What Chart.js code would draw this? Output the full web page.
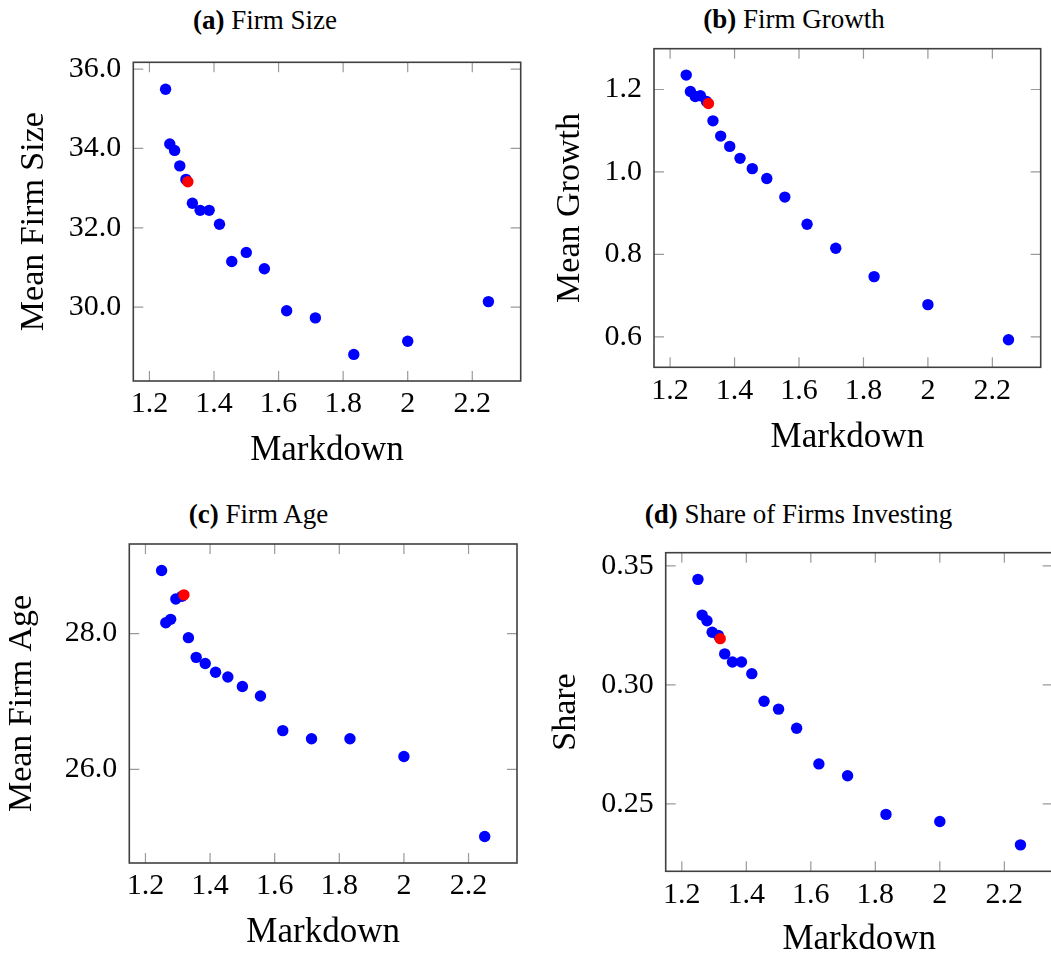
<!DOCTYPE html>
<html>
<head>
<meta charset="utf-8">
<script src="https://cdn.jsdelivr.net/npm/chart.js@4.4.1/dist/chart.umd.min.js"></script>
<style>
  html, body { margin: 0; padding: 0; background: #fff; overflow: hidden; width: 1051px; height: 958px; }
  canvas { position: absolute; }
  .cap { position: absolute; font-family: "Liberation Serif", serif; font-size: 27px; line-height: 30px;
         white-space: nowrap; transform: translateX(-50%); color: #000; }
</style>
</head>
<body>
<div class="cap" style="left:265px;top:5px"><b>(a)</b> Firm Size</div>
<div class="cap" style="left:794px;top:4px"><b>(b)</b> Firm Growth</div>
<div class="cap" style="left:258.5px;top:499px"><b>(c)</b> Firm Age</div>
<div class="cap" style="left:798.5px;top:499px"><b>(d)</b> Share of Firms Investing</div>

<canvas id="chartA" width="525" height="480" style="left:0;top:0"></canvas>
<canvas id="chartB" width="526" height="480" style="left:525px;top:0"></canvas>
<canvas id="chartC" width="525" height="478" style="left:0;top:480px"></canvas>
<canvas id="chartD" width="530" height="490" style="left:525px;top:480px"></canvas>

<script>
  // markdown values (x) shared by all four panels
  const markdown = [1.25, 1.263, 1.278, 1.294, 1.313, 1.333, 1.357, 1.385, 1.417, 1.455, 1.5, 1.556, 1.625, 1.714, 1.833, 2.0, 2.25];
  const baseMarkdown = 1.319;

  const firmSize = [35.49, 34.11, 33.95, 33.56, 33.22, 32.62, 32.44, 32.44, 32.09, 31.15, 31.38, 30.97, 29.91, 29.73, 28.81, 29.14, 30.14];
  const firmSizeBase = 33.16;
  const firmGrowth = [1.235, 1.195, 1.183, 1.185, 1.171, 1.124, 1.087, 1.062, 1.033, 1.008, 0.984, 0.939, 0.873, 0.815, 0.746, 0.678, 0.593];
  const firmGrowthBase = 1.166;
  const firmAge = [28.93, 28.16, 28.21, 28.51, 28.55, 27.94, 27.65, 27.56, 27.43, 27.36, 27.22, 27.08, 26.57, 26.45, 26.45, 26.19, 25.01];
  const firmAgeBase = 28.57;
  const shareInvesting = [0.3443, 0.3293, 0.3269, 0.3221, 0.3208, 0.313, 0.3096, 0.3096, 0.3047, 0.2931, 0.2898, 0.2818, 0.2668, 0.2618, 0.2456, 0.2426, 0.2328];
  const shareInvestingBase = 0.3194;

  const xTicks = [1.2, 1.4, 1.6, 1.8, 2, 2.2];
  const sizeTicks = [30, 32, 34, 36];
  const growthTicks = [0.6, 0.8, 1.0, 1.2];
  const ageTicks = [26, 28];
  const shareTicks = [0.25, 0.30, 0.35];

  Chart.defaults.font.family = '"Liberation Serif", serif';
  Chart.defaults.color = '#000';

  // pgfplots style frame with inward ticks on all four sides
  const innerTicks = {
    id: 'innerTicks',
    beforeDatasetsDraw(chart) {
      const { ctx, chartArea: a, scales: { x, y } } = chart;
      const len = 10;
      ctx.save();
      ctx.strokeStyle = '#9a9a9a';
      ctx.lineWidth = 1.2;
      ctx.beginPath();
      x.ticks.forEach(t => {
        const px = x.getPixelForValue(t.value);
        ctx.moveTo(px, a.top); ctx.lineTo(px, a.top + len);
        ctx.moveTo(px, a.bottom); ctx.lineTo(px, a.bottom - len);
      });
      y.ticks.forEach(t => {
        const py = y.getPixelForValue(t.value);
        ctx.moveTo(a.left, py); ctx.lineTo(a.left + len, py);
        ctx.moveTo(a.right, py); ctx.lineTo(a.right - len, py);
      });
      ctx.stroke();
      ctx.strokeStyle = '#404040';
      ctx.lineWidth = 1.6;
      ctx.strokeRect(a.left, a.top, a.right - a.left, a.bottom - a.top);
      ctx.restore();
    }
  };

  function panel(id, ys, base, yTicks, yMin, yMax, dec, yTitle, lay) {
    const pts = markdown.map((m, i) => ({ x: m, y: ys[i] }));
    return new Chart(document.getElementById(id), {
      type: 'scatter',
      data: {
        datasets: [
          { data: [{ x: baseMarkdown, y: base }], backgroundColor: '#ff0000', borderWidth: 0, pointRadius: 5.7, order: 0 },
          { data: pts, backgroundColor: '#0000ff', borderWidth: 0, pointRadius: 5.7, order: 1 }
        ]
      },
      options: {
        responsive: false,
        animation: false,
        layout: { autoPadding: false, padding: { left: 0, right: lay.right, top: lay.top, bottom: 0 } },
        plugins: { legend: { display: false }, tooltip: { enabled: false } },
        scales: {
          x: {
            type: 'linear', min: 1.15, max: 2.35,
            grid: { display: false, drawTicks: false },
            border: { display: false },
            afterBuildTicks: s => { s.ticks = xTicks.map(v => ({ value: v })); },
            afterFit: s => { s.height = lay.xh; },
            ticks: { padding: 5.5, font: { size: 30 }, maxRotation: 0, autoSkip: false, callback: v => String(v) },
            title: { display: true, text: 'Markdown', font: { size: 35 }, padding: { top: 0, bottom: lay.xtp } }
          },
          y: {
            type: 'linear', min: yMin, max: yMax,
            grid: { display: false, drawTicks: false },
            border: { display: false },
            afterBuildTicks: s => { s.ticks = yTicks.map(v => ({ value: v })); },
            afterFit: s => { s.width = lay.yw; },
            ticks: { padding: 12, font: { size: 30 }, autoSkip: false, callback: v => Number(v).toFixed(dec) },
            title: { display: true, text: yTitle, font: { size: 34 }, padding: { top: lay.ytp, bottom: 0 } }
          }
        }
      },
      plugins: [innerTicks]
    });
  }

  panel('chartA', firmSize, firmSizeBase, sizeTicks, 28.14, 36.17, 1, 'Mean Firm Size',
    { top: 62.3, right: 4.3, yw: 133.3, xh: 99, ytp: 13.6, xtp: 8.6 });
  panel('chartB', firmGrowth, firmGrowthBase, growthTicks, 0.526, 1.299, 1, 'Mean Growth',
    { top: 48.7, right: 10.3, yw: 129, xh: 112.7, ytp: 24.6, xtp: 21.6 });
  panel('chartC', firmAge, firmAgeBase, ageTicks, 24.62, 29.32, 1, 'Mean Firm Age',
    { top: 64, right: 8, yw: 129.3, xh: 95, ytp: 2.1, xtp: 4.1 });
  panel('chartD', shareInvesting, shareInvestingBase, shareTicks, 0.2217, 0.3555, 2, 'Share',
    { top: 72.7, right: 2.3, yw: 140.7, xh: 98.7, ytp: 20.6, xtp: 9.1 });
</script>
</body>
</html>
